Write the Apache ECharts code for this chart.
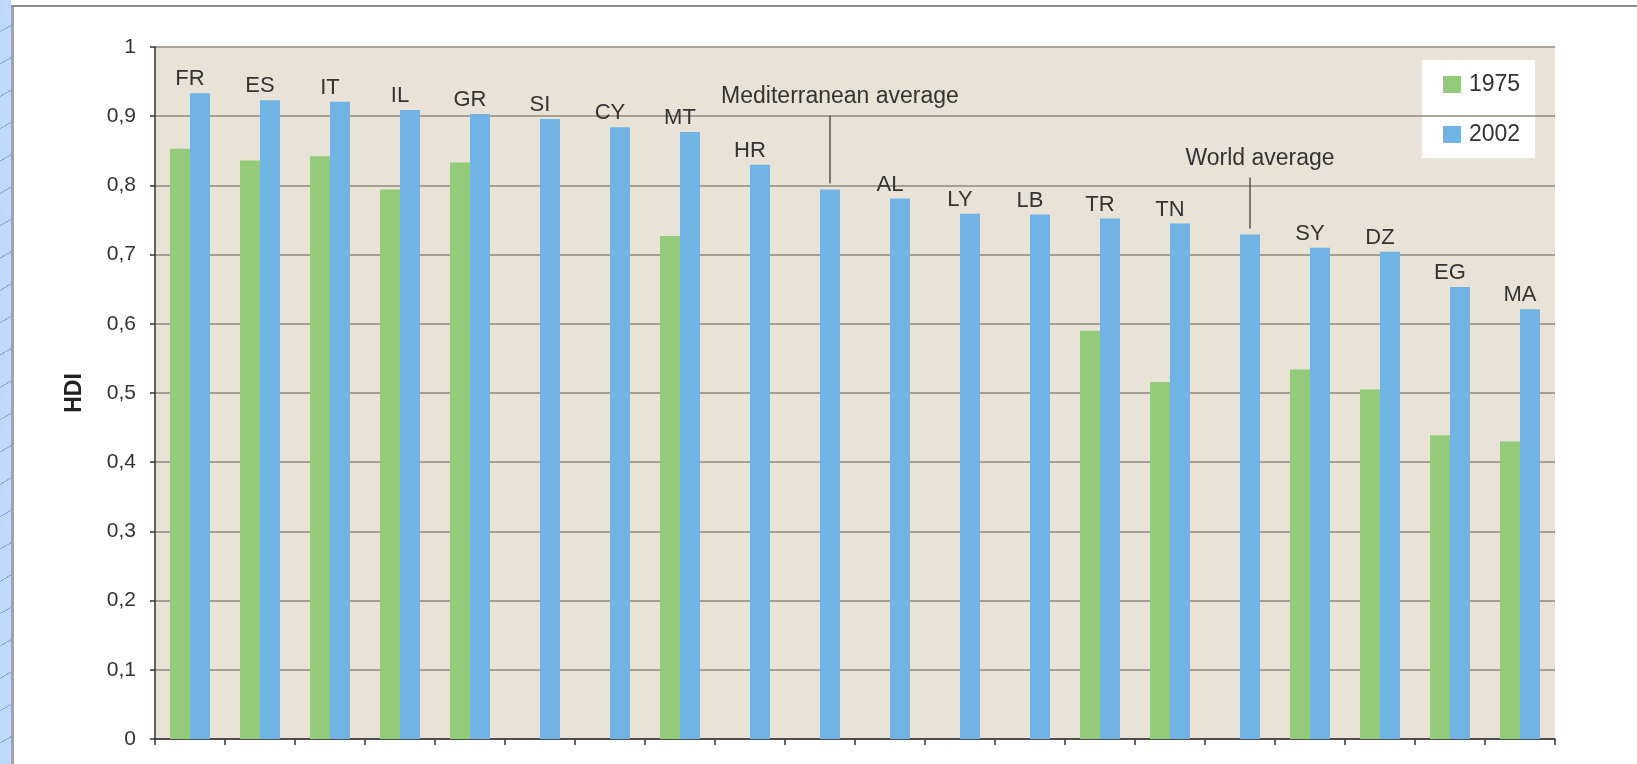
<!DOCTYPE html>
<html>
<head>
<meta charset="utf-8">
<title>HDI 1975 / 2002</title>
<script src="https://cdn.jsdelivr.net/npm/echarts@6.0.0/dist/echarts.min.js"></script>
<style>
  html, body { margin: 0; padding: 0; background: #fff; overflow: hidden; }
  #chart { width: 1637px; height: 764px; }
  /* slide frame: patterned strip on the left, grey rules */
  .strip { position: absolute; left: 0; top: 0; width: 11px; height: 764px; z-index: 5;
    background-color: #bfdafe;
    background-image: repeating-linear-gradient(150deg, transparent 0 27px, rgba(95,125,175,.55) 27px 28px); }
  .rule-v { position: absolute; left: 11px; top: 6px; width: 3px; height: 758px; background: #a3a3a3; z-index: 5; }
  .rule-h { position: absolute; left: 11px; top: 5px; right: 0; height: 2px; background: #8d8d8d; z-index: 5; }
</style>
</head>
<body>
<div class="strip"></div>
<div class="rule-v"></div>
<div class="rule-h"></div>
<div id="chart"></div>
<script>
const categories = ['FR', 'ES', 'IT', 'IL', 'GR', 'SI', 'CY', 'MT', 'HR', 'Mediterranean average',
  'AL', 'LY', 'LB', 'TR', 'TN', 'World average', 'SY', 'DZ', 'EG', 'MA'];
const hdi1975 = [0.853, 0.836, 0.842, 0.794, 0.833, null, null, 0.727, null, null,
  null, null, null, 0.590, 0.516, null, 0.534, 0.505, 0.439, 0.430];
const hdi2002 = [0.933, 0.923, 0.921, 0.909, 0.903, 0.896, 0.884, 0.877, 0.830, 0.794,
  0.781, 0.759, 0.758, 0.752, 0.745, 0.729, 0.710, 0.704, 0.653, 0.621];
const yTickLabels = ['0', '0,1', '0,2', '0,3', '0,4', '0,5', '0,6', '0,7', '0,8', '0,9', '1'];

// leader line length (px) for the two average bars
const leaders = { 'Mediterranean average': 68, 'World average': 51 };

const textColor = '#333';
const fontFamily = '"Liberation Sans", Arial, sans-serif';

const blueData = hdi2002.map((v, i) => {
  const name = categories[i];
  if (!leaders[name]) return v;
  return {
    value: v,
    label: {
      offset: [0, 0],
      distance: 6,
      formatter: '{t|' + name + '}\n{l| }',
      rich: {
        t: { fontSize: 23, color: textColor, fontFamily, align: 'center', padding: [0, 0, 7, 20] },
        l: { width: 1.5, height: leaders[name], backgroundColor: '#555', align: 'center' },
      },
    },
  };
});

const option = {
  backgroundColor: '#fff',
  animation: false,
  grid: {
    left: 155,
    right: 82,
    top: 47,
    bottom: 25,
    show: true,
    backgroundColor: '#e8e2d7',
    borderWidth: 0,
    z: 0,
  },
  legend: {
    data: ['1975', '2002'],
    orient: 'vertical',
    left: 1422,
    top: 60,
    padding: [13, 15, 12, 21],
    itemWidth: 18,
    itemHeight: 17,
    itemGap: 27,
    icon: 'rect',
    backgroundColor: '#fff',
    z: 1,
    textStyle: { fontSize: 23, color: textColor, fontFamily, padding: [0, 0, 0, 3] },
  },
  xAxis: {
    type: 'category',
    data: categories,
    z: 2,
    axisLine: { lineStyle: { color: '#333', width: 1.5 } },
    axisTick: { show: true, interval: 0, length: 6, lineStyle: { color: '#333', width: 1.5 } },
    axisLabel: { show: false, interval: 0 },
    splitLine: { show: false },
  },
  yAxis: {
    type: 'value',
    min: 0,
    max: 1,
    interval: 0.1,
    z: 2,
    name: 'HDI',
    nameLocation: 'middle',
    nameRotate: 90,
    nameGap: 69,
    nameTextStyle: { fontSize: 23, fontWeight: 'bold', color: '#222', fontFamily },
    axisLine: { show: true, lineStyle: { color: '#333', width: 1.5 } },
    axisTick: { show: true, length: 5, lineStyle: { color: '#333', width: 1.5 } },
    axisLabel: {
      fontSize: 21,
      color: textColor,
      fontFamily,
      margin: 19,
      formatter: (v) => yTickLabels[Math.round(v * 10)],
    },
    splitLine: { lineStyle: { color: '#8f897f', width: 1.5 } },
  },
  series: [
    {
      name: '1975',
      type: 'bar',
      data: hdi1975,
      barWidth: 20,
      barGap: '0%',
      z: 3,
      itemStyle: { color: '#93cb7b' },
    },
    {
      name: '2002',
      type: 'bar',
      data: blueData,
      barWidth: 20,
      barGap: '0%',
      z: 3,
      itemStyle: { color: '#6fb4e4' },
      label: {
        show: true,
        position: 'top',
        distance: 3,
        offset: [-10, 0],
        fontSize: 22,
        color: textColor,
        fontFamily,
        formatter: (p) => p.name,
      },
    },
  ],
};

const chart = echarts.init(document.getElementById('chart'));
chart.setOption(option);
</script>
</body>
</html>
